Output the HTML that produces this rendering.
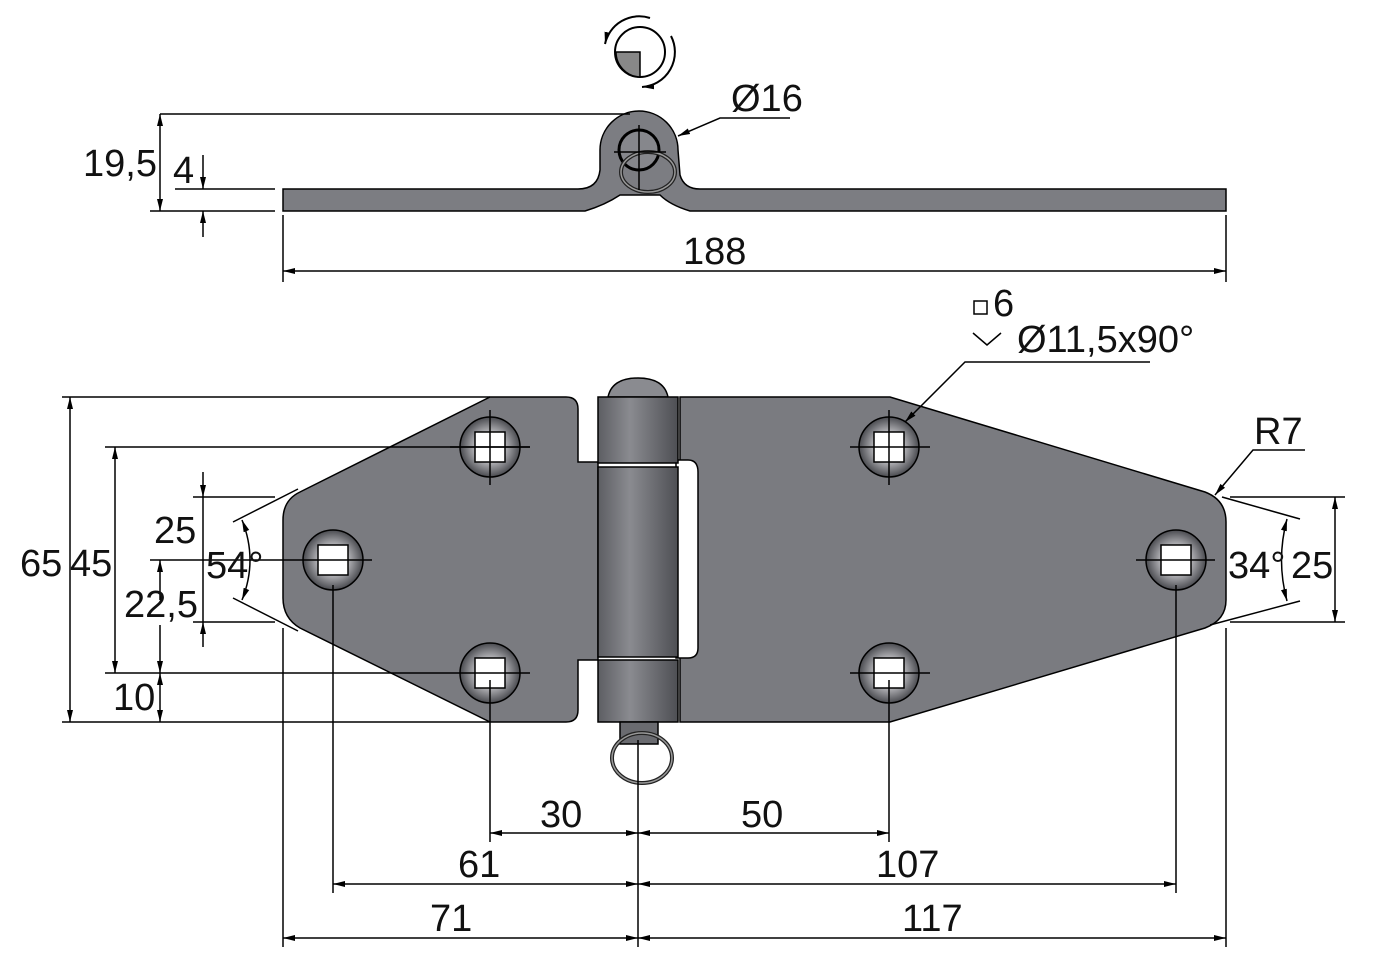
<!DOCTYPE html>
<html><head><meta charset="utf-8"><style>
html,body{margin:0;padding:0;background:#fff;}
svg{display:block;}
text{font-family:"Liberation Sans",sans-serif;font-size:38px;fill:#111;}
</style></head><body>
<svg width="1384" height="961" viewBox="0 0 1384 961" xmlns="http://www.w3.org/2000/svg">
<defs>
<marker id="a" viewBox="0 0 12 8" refX="12" refY="4" markerWidth="12" markerHeight="8" orient="auto-start-reverse" markerUnits="userSpaceOnUse"><path d="M0,1 L12,4 L0,7 Z" fill="#000"/></marker>
<linearGradient id="kn" x1="0" x2="1" y1="0" y2="0"><stop offset="0" stop-color="#5d5e63"/><stop offset="0.4" stop-color="#8a8b90"/><stop offset="1" stop-color="#4e4f54"/></linearGradient>
<radialGradient id="hole" cx="0.5" cy="0.5" r="0.5"><stop offset="0.5" stop-color="#b5b5b9"/><stop offset="1" stop-color="#4a4b50"/></radialGradient>
</defs>
<g stroke="#000" stroke-width="1.5" fill="none">
<!-- rotation icon -->
<circle cx="640" cy="52" r="25" stroke-width="2"/>
<path d="M616,52 L640,52 L640,77 A25,25 0 0 1 616,52 Z" fill="#888"/>
<path d="M650,18 A35,35 0 0 0 605,44" stroke-width="2" marker-end="url(#a)"/>
<path d="M671,36 A35,35 0 0 1 642,87" stroke-width="2" marker-end="url(#a)"/>
<!-- top view -->
<path d="M283,189 L578,189 Q598,189 600,170 L600,150 A39,39 0 0 1 678,150 L680,175 Q684,189 700,189 L1226,189 L1226,211 L690,211 Q670,205 660,195 L620,195 Q605,205 585,211 L283,211 Z" fill="#7c7d82"/>
<circle cx="639" cy="150" r="20" fill="#86878c" stroke-width="3"/>
<ellipse cx="648" cy="172" rx="27" ry="20" stroke-width="4" stroke="#222"/>
<ellipse cx="648" cy="172" rx="27" ry="20" stroke-width="1.5" stroke="#999"/>
<line x1="614" y1="152" x2="666" y2="152"/><line x1="639" y1="125" x2="639" y2="190"/>
<!-- top dims -->
<line x1="160" y1="114" x2="630" y2="114"/>
<line x1="175" y1="189" x2="275" y2="189"/><line x1="150" y1="211" x2="275" y2="211"/>
<line x1="160" y1="114" x2="160" y2="211" marker-start="url(#a)" marker-end="url(#a)"/>
<line x1="203" y1="155" x2="203" y2="189" marker-end="url(#a)"/>
<line x1="203" y1="237" x2="203" y2="211" marker-end="url(#a)"/>
<line x1="283" y1="215" x2="283" y2="282"/><line x1="1226" y1="215" x2="1226" y2="282"/>
<line x1="283" y1="271" x2="1226" y2="271" marker-start="url(#a)" marker-end="url(#a)"/>
<polyline points="790,118 720,118 678,136" marker-end="url(#a)"/>
<!-- left leaf -->
<path d="M490,397 L566,397 Q578,397 578,409 L578,462 L598,462 L598,660 L578,660 L578,710 Q578,722 566,722 L490,722 L300,628 Q283,618 283,598 L283,520 Q283,500 300,492 Z" fill="#7a7b80"/>
<!-- right leaf -->
<path d="M680,397 L890,397 L1205,492 Q1226,500 1226,522 L1226,600 Q1226,620 1205,628 L890,722 L680,722 Z" fill="#7a7b80"/>
<path d="M676,460 L688,460 Q698,460 698,472 L698,648 Q698,658 688,658 L676,658 Z" fill="#fff"/>
<!-- knuckle -->
<path d="M608,397 Q612,378 638,378 Q664,378 668,397 Z" fill="#8a8b90"/>
<rect x="598" y="397" width="80" height="66" fill="url(#kn)"/>
<rect x="598" y="467" width="80" height="190" fill="url(#kn)"/>
<rect x="598" y="660" width="80" height="62" fill="url(#kn)"/>
<rect x="620" y="722" width="38" height="22" fill="#6a6b70"/>
<ellipse cx="642" cy="758" rx="30" ry="25" stroke-width="4" stroke="#222"/>
<ellipse cx="642" cy="758" rx="30" ry="25" stroke-width="1.5" stroke="#999"/>
<!-- holes -->
<g fill="url(#hole)">
<circle cx="490" cy="447" r="30"/><circle cx="490" cy="673" r="30"/><circle cx="333" cy="560" r="30"/>
<circle cx="889" cy="447" r="30"/><circle cx="889" cy="673" r="30"/><circle cx="1176" cy="560" r="30"/>
</g>
<g fill="#fff">
<rect x="475" y="432" width="30" height="30"/><rect x="475" y="658" width="30" height="30"/><rect x="318" y="545" width="30" height="30"/>
<rect x="874" y="432" width="30" height="30"/><rect x="874" y="658" width="30" height="30"/><rect x="1161" y="545" width="30" height="30"/>
</g>
<!-- center lines -->
<line x1="450" y1="447" x2="530" y2="447"/><line x1="850" y1="447" x2="930" y2="447"/><line x1="889" y1="410" x2="889" y2="485"/>
<line x1="490" y1="410" x2="490" y2="485"/>
<line x1="150" y1="560" x2="372" y2="560"/><line x1="1136" y1="560" x2="1215" y2="560"/>
<line x1="850" y1="673" x2="930" y2="673"/>
<!-- left dims -->
<line x1="62" y1="397" x2="490" y2="397"/><line x1="62" y1="722" x2="490" y2="722"/>
<line x1="105" y1="447" x2="530" y2="447"/><line x1="105" y1="673" x2="530" y2="673"/>
<line x1="70" y1="397" x2="70" y2="722" marker-start="url(#a)" marker-end="url(#a)"/>
<line x1="115" y1="447" x2="115" y2="673" marker-start="url(#a)" marker-end="url(#a)"/>
<line x1="193" y1="497" x2="275" y2="497"/><line x1="193" y1="622" x2="275" y2="622"/>
<line x1="203" y1="472" x2="203" y2="497" marker-end="url(#a)"/>
<line x1="203" y1="647" x2="203" y2="622" marker-end="url(#a)"/>
<line x1="203" y1="497" x2="203" y2="622"/>
<line x1="160" y1="560" x2="160" y2="600" marker-start="url(#a)"/>
<line x1="160" y1="625" x2="160" y2="673" marker-end="url(#a)"/>
<line x1="160" y1="673" x2="160" y2="722" marker-start="url(#a)" marker-end="url(#a)"/>
<line x1="233" y1="522" x2="298" y2="489"/><line x1="233" y1="598" x2="298" y2="631"/>
<path d="M242,520 Q258,560 242,600" marker-start="url(#a)" marker-end="url(#a)"/>
<!-- right dims -->
<line x1="1230" y1="497" x2="1345" y2="497"/><line x1="1230" y1="622" x2="1345" y2="622"/>
<line x1="1335" y1="497" x2="1335" y2="622" marker-start="url(#a)" marker-end="url(#a)"/>
<line x1="1222" y1="497" x2="1300" y2="519"/><line x1="1210" y1="625" x2="1300" y2="601"/>
<path d="M1287,519 Q1276,560 1287,601" marker-start="url(#a)" marker-end="url(#a)"/>
<polyline points="1305,450 1253,450 1215,495" marker-end="url(#a)"/>
<polyline points="1150,362 965,362 905,422" marker-end="url(#a)"/>
<polyline points="973,333 987,345 1001,333"/>
<rect x="974" y="301" width="13" height="13"/>
<!-- bottom ext lines -->
<line x1="490" y1="680" x2="490" y2="842"/><line x1="889" y1="680" x2="889" y2="842"/>
<line x1="333" y1="585" x2="333" y2="893"/><line x1="1176" y1="585" x2="1176" y2="893"/>
<line x1="283" y1="628" x2="283" y2="947"/><line x1="1226" y1="628" x2="1226" y2="947"/>
<line x1="638" y1="740" x2="638" y2="947"/>
<line x1="490" y1="833" x2="638" y2="833" marker-start="url(#a)" marker-end="url(#a)"/>
<line x1="638" y1="833" x2="889" y2="833" marker-start="url(#a)" marker-end="url(#a)"/>
<line x1="333" y1="884" x2="638" y2="884" marker-start="url(#a)" marker-end="url(#a)"/>
<line x1="638" y1="884" x2="1176" y2="884" marker-start="url(#a)" marker-end="url(#a)"/>
<line x1="283" y1="938" x2="638" y2="938" marker-start="url(#a)" marker-end="url(#a)"/>
<line x1="638" y1="938" x2="1226" y2="938" marker-start="url(#a)" marker-end="url(#a)"/>
</g>
<g>
<text x="83" y="176">19,5</text><text x="173" y="183">4</text><text x="683" y="264">188</text>
<text x="731" y="111">Ø16</text>
<text x="993" y="316">6</text><text x="1017" y="352">Ø11,5x90°</text>
<text x="1254" y="444">R7</text>
<text x="20" y="576">65</text><text x="70" y="576">45</text>
<text x="154" y="543">25</text><text x="206" y="578">54°</text><text x="124" y="617">22,5</text>
<text x="113" y="710">10</text>
<text x="1228" y="578">34°</text><text x="1291" y="578">25</text>
<text x="540" y="827">30</text><text x="741" y="827">50</text>
<text x="458" y="877">61</text><text x="876" y="877">107</text>
<text x="430" y="931">71</text><text x="902" y="931">117</text>
</g>
</svg>
</body></html>
